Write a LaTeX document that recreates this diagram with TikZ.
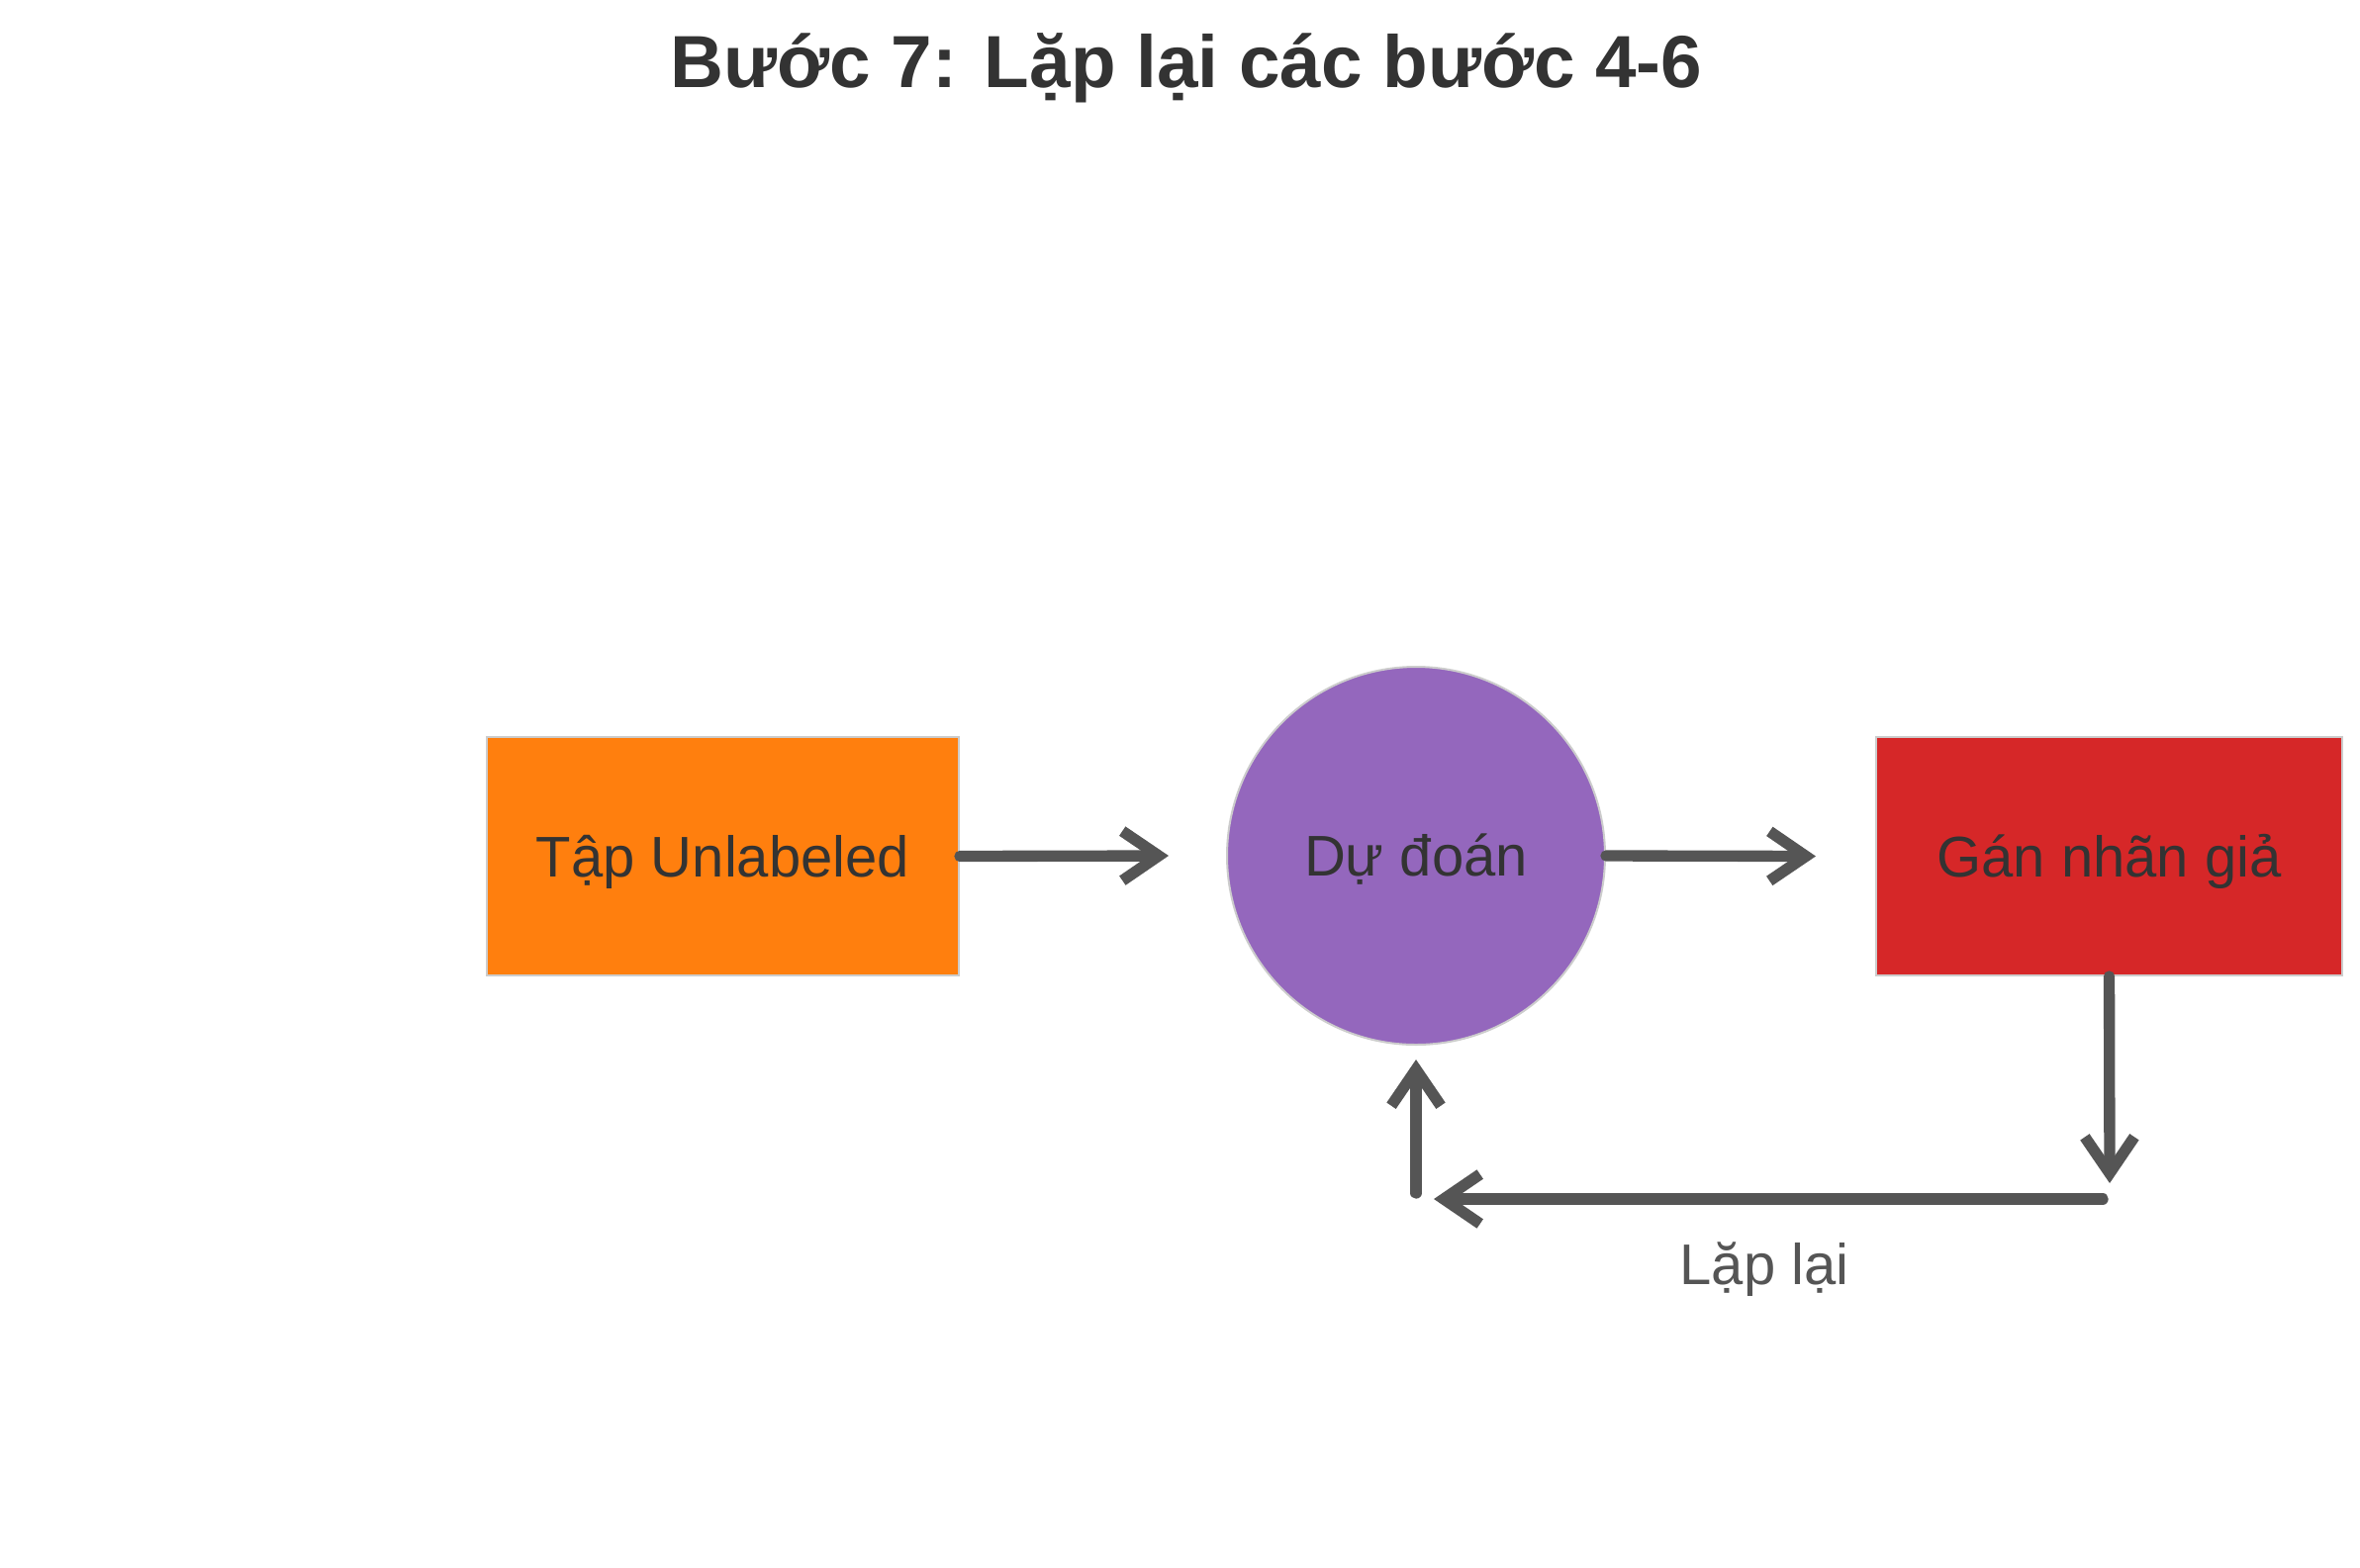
\documentclass[tikz,border=0pt]{standalone}
\usepackage{fontspec}
\setmainfont{Liberation Sans}
\usetikzlibrary{arrows.meta,positioning}
\definecolor{boxorange}{HTML}{FF7F0E}
\definecolor{predpurple}{HTML}{9467BD}
\definecolor{pseudored}{HTML}{D62728}
\definecolor{edgegray}{HTML}{CCCCCC}
\definecolor{arrowgray}{HTML}{555555}
\definecolor{txtgray}{HTML}{333333}
\begin{document}
\begin{tikzpicture}[x=0.3pt,y=-0.3pt]
\tikzstyle{every node}+=[font=\fontsize{17.4}{20}\selectfont, text=txtgray, inner sep=0pt, text height=12.5pt, text depth=0pt]
\tikzstyle{stage}=[draw=edgegray, line width=0.6pt, minimum height=72.3pt]
\tikzstyle{flow}=[draw=arrowgray, line width=3.4pt, line cap=round, line join=round, -{Straight Barb[length=11pt,width=15pt]}]
\useasboundingbox (0,0) rectangle (2385,1584);
\node [font=\bfseries\fontsize{22.4}{26}\selectfont, anchor=base, text height=, text depth=] (title) at (1199,88) {Bước 7: Lặp lại các bước 4-6};
\node [stage, fill=boxorange, minimum width=143.1pt] (unlab) at (730.5,865.5) {Tập Unlabeled};
\node [circle, draw=edgegray, line width=0.6pt, fill=predpurple, minimum size=114.6pt] (pred) at (1431,865) {Dự đoán};
\node [stage, fill=pseudored, minimum width=141.3pt] (pseudo) at (2131.5,865.5) {Gán nhãn giả};
\coordinate (down) at (2132,1196);
\coordinate (loopR) at (2125,1212);
\coordinate (loopL) at (1449,1212);
\coordinate (loopUp) at (1431,1206);
\draw [flow] (unlab.east) -- ([xshift=-17.4pt]pred.west);
\draw [flow] (pred.east) -- ([xshift=-18pt]pseudo.west);
\draw [flow] (pseudo.south) -- (down);
\draw [flow] (loopR) -- (loopL);
\draw [flow] (loopUp) -- ([yshift=-4.2pt]pred.south);
\node [text=arrowgray] (again) at (1783,1278) {Lặp lại};
\end{tikzpicture}
\end{document}
